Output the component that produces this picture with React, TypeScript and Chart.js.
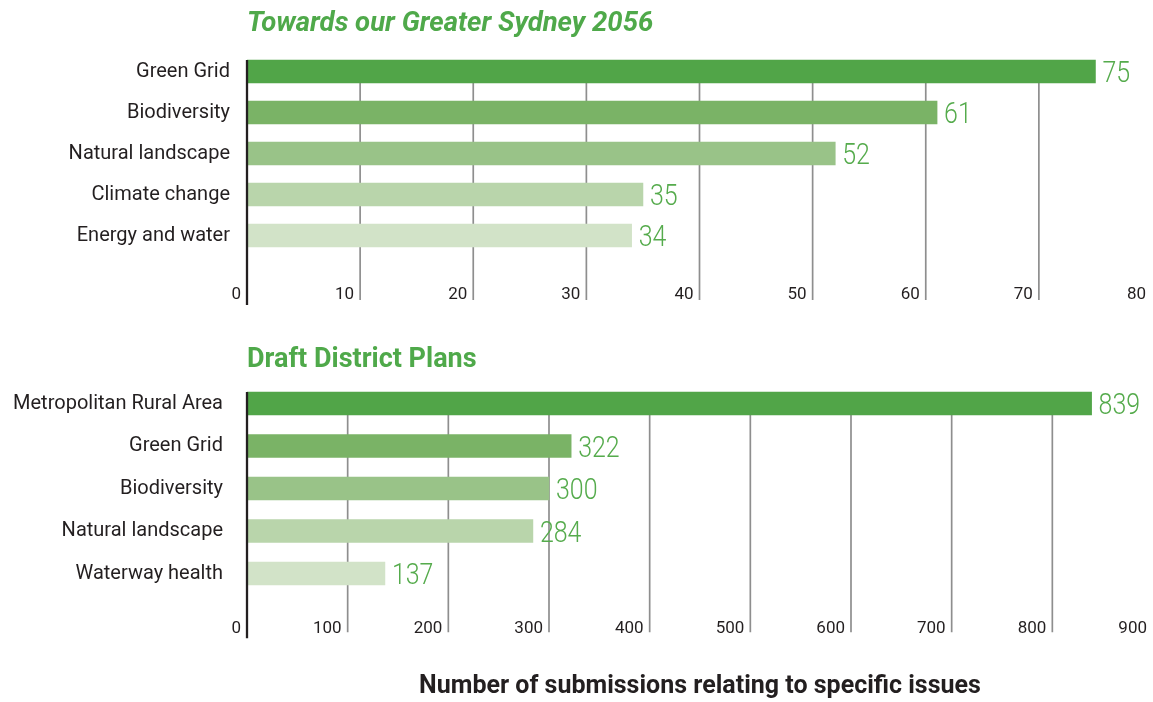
import React, { useEffect, useRef } from 'react';
import { Chart, registerables } from 'chart.js';

Chart.register(...registerables);

const TOP_TITLE = 'Towards our Greater Sydney 2056';
const TOP_CATEGORIES = ['Green Grid', 'Biodiversity', 'Natural landscape', 'Climate change', 'Energy and water'];
const TOP_VALUES = [75, 61, 52, 35, 34];
const TOP_TICKS = [0, 10, 20, 30, 40, 50, 60, 70, 80];

const BOTTOM_TITLE = 'Draft District Plans';
const BOTTOM_CATEGORIES = ['Metropolitan Rural Area', 'Green Grid', 'Biodiversity', 'Natural landscape', 'Waterway health'];
const BOTTOM_VALUES = [839, 322, 300, 284, 137];
const BOTTOM_TICKS = [0, 100, 200, 300, 400, 500, 600, 700, 800, 900];

const X_TITLE = 'Number of submissions relating to specific issues';

const BAR_COLORS = ['#51a548', '#7ab366', '#99c388', '#b9d5ab', '#d2e3c8'];
const GREEN_TEXT = '#55ab4c';
const TITLE_GREEN = '#4fa94a';
const DARK = '#231f20';
const GRID = '#8e8e8e';

type Cfg = {
  categories: string[];
  values: number[];
  ticks: number[];
  title: string;
  titleItalic: boolean;
  titleSize: number;
  titlePad: { top: number; bottom: number };
  yPad: number;
  barThickness: number;
  padRight: number;
  padBottom: number;
  gridBottom: number;
  axisBottom: number;
  labelBaseline: number;
  subtitle?: string;
  subtitlePad?: { top: number; bottom: number };
};

function makePlugin(cfg: Cfg) {
  return {
    id: 'customAxis',
    beforeDatasetsDraw(chart: any) {
      const ctx = chart.ctx;
      const xs = chart.scales.x;
      const first = chart.getDatasetMeta(0).data[0];
      const top = first.y - first.height / 2;
      const bottom = chart.chartArea.bottom + cfg.gridBottom;
      ctx.save();
      ctx.strokeStyle = GRID;
      ctx.lineWidth = 1.7;
      cfg.ticks.forEach((t, i) => {
        if (i === 0 || i === cfg.ticks.length - 1) return;
        const x = xs.getPixelForValue(t);
        ctx.beginPath();
        ctx.moveTo(x, top);
        ctx.lineTo(x, bottom);
        ctx.stroke();
      });
      ctx.fillStyle = DARK;
      ctx.font = '17px Roboto';
      ctx.textAlign = 'right';
      ctx.textBaseline = 'alphabetic';
      cfg.ticks.forEach((t) => {
        const x = xs.getPixelForValue(t);
        ctx.fillText(String(t), x - 6, chart.chartArea.bottom + cfg.labelBaseline);
      });
      ctx.restore();
    },
    afterDatasetsDraw(chart: any) {
      const ctx = chart.ctx;
      const xs = chart.scales.x;
      const meta = chart.getDatasetMeta(0);
      const first = meta.data[0];
      const top = first.y - first.height / 2;
      ctx.save();
      ctx.strokeStyle = DARK;
      ctx.lineWidth = 2.3;
      const x0 = xs.getPixelForValue(0);
      ctx.beginPath();
      ctx.moveTo(x0, top);
      ctx.lineTo(x0, chart.chartArea.bottom + cfg.axisBottom);
      ctx.stroke();
      ctx.restore();
      meta.data.forEach((bar: any, i: number) => {
        ctx.save();
        ctx.fillStyle = GREEN_TEXT;
        ctx.font = '300 29px Roboto';
        ctx.textAlign = 'left';
        ctx.textBaseline = 'alphabetic';
        ctx.translate(bar.x + 7, bar.y + 10.5);
        ctx.scale(0.86, 1);
        ctx.fillText(String(cfg.values[i]), 0, 0);
        ctx.restore();
      });
    },
  };
}

function BarPanel({ cfg, top, height }: { cfg: Cfg; top: number; height: number }) {
  const ref = useRef<HTMLCanvasElement>(null);
  useEffect(() => {
    if (!ref.current) return;
    const plugins: any = {
      legend: { display: false },
      tooltip: { enabled: false },
      title: {
        display: true,
        text: cfg.title,
        align: 'start',
        fullSize: false,
        color: TITLE_GREEN,
        font: { family: 'Roboto', size: cfg.titleSize, weight: 'bold', style: cfg.titleItalic ? 'italic' : 'normal', lineHeight: 1 },
        padding: cfg.titlePad,
      },
      subtitle: cfg.subtitle
        ? {
            display: true,
            text: cfg.subtitle,
            position: 'bottom',
            align: 'center',
            fullSize: false,
            color: DARK,
            font: { family: 'Roboto', size: 25, weight: 'bold', lineHeight: 1 },
            padding: cfg.subtitlePad,
          }
        : { display: false },
    };
    const chart = new Chart(ref.current, {
      type: 'bar',
      data: {
        labels: cfg.categories,
        datasets: [
          {
            data: cfg.values,
            backgroundColor: BAR_COLORS,
            barThickness: cfg.barThickness,
            borderWidth: 0,
          },
        ],
      },
      options: {
        indexAxis: 'y',
        animation: false,
        responsive: false,
        maintainAspectRatio: false,
        layout: { padding: { left: 0, right: cfg.padRight, top: 0, bottom: cfg.padBottom } },
        plugins,
        scales: {
          x: {
            display: false,
            min: cfg.ticks[0],
            max: cfg.ticks[cfg.ticks.length - 1],
          },
          y: {
            offset: true,
            grid: { display: false, drawTicks: false },
            border: { display: false },
            ticks: {
              color: DARK,
              font: { family: 'Roboto', size: 20 },
              padding: cfg.yPad,
            },
            afterFit: (scale: any) => {
              scale.width = 247;
            },
          },
        },
      },
      plugins: [makePlugin(cfg)],
    } as any);
    return () => chart.destroy();
  }, [cfg]);
  return (
    <canvas
      ref={ref}
      width={1153}
      height={height}
      style={{ position: 'absolute', left: 0, top, width: 1153, height }}
    />
  );
}

const TOP_CFG: Cfg = {
  categories: TOP_CATEGORIES,
  values: TOP_VALUES,
  ticks: TOP_TICKS,
  title: TOP_TITLE,
  titleItalic: true,
  titleSize: 27.5,
  titlePad: { top: 10.25, bottom: 13.25 },
  yPad: 17,
  barThickness: 23,
  padRight: 1,
  padBottom: 64,
  gridBottom: 44,
  axisBottom: 49,
  labelBaseline: 43,
};

const BOTTOM_CFG: Cfg = {
  categories: BOTTOM_CATEGORIES,
  values: BOTTOM_VALUES,
  ticks: BOTTOM_TICKS,
  title: BOTTOM_TITLE,
  titleItalic: false,
  titleSize: 27,
  titlePad: { top: 17, bottom: 8.25 },
  yPad: 24,
  barThickness: 23,
  padRight: 0,
  padBottom: 0,
  gridBottom: 37.5,
  axisBottom: 43.5,
  labelBaseline: 38,
  subtitle: X_TITLE,
  subtitlePad: { top: 79.25, bottom: 3 },
};

export default function App() {
  return (
    <div style={{ position: 'absolute', left: 0, top: 0, width: 1153, height: 702, background: '#ffffff' }}>
      <BarPanel cfg={TOP_CFG} top={0} height={320} />
      <BarPanel cfg={BOTTOM_CFG} top={330} height={372} />
    </div>
  );
}
